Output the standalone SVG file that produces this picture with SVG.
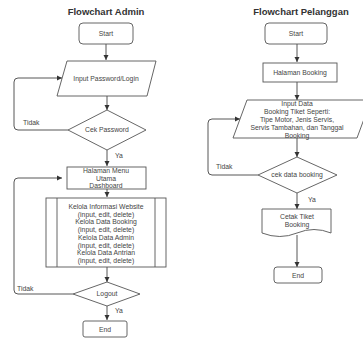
<svg xmlns="http://www.w3.org/2000/svg" width="363" height="339" viewBox="0 0 363 339">
<style>
.s{fill:#fff;stroke:#555;stroke-width:0.9}
.c{fill:none;stroke:#444;stroke-width:0.9}
.t{font-family:"Liberation Sans",Arial,sans-serif;font-size:6.8px;fill:#444;text-anchor:middle}
.l{font-family:"Liberation Sans",Arial,sans-serif;font-size:6.8px;fill:#444}
.h{font-family:"Liberation Sans",Arial,sans-serif;font-size:9.5px;font-weight:bold;fill:#333;text-anchor:middle}
</style>
<defs>
<marker id="a" markerWidth="6" markerHeight="6" refX="5" refY="3" orient="auto" markerUnits="userSpaceOnUse">
<path d="M0,0.5 L5,3 L0,5.5 Z" fill="#333"/>
</marker>
</defs>
<rect width="363" height="339" fill="#fff"/>
<text class="h" x="106" y="15">Flowchart Admin</text>
<text class="h" x="301" y="15">Flowchart Pelanggan</text>
<g id="connectors">
<path class="c" d="M106,44 V60" marker-end="url(#a)"/>
<path class="c" d="M107,96 V110" marker-end="url(#a)"/>
<path class="c" d="M68,130 H18 Q14,130 14,126 V82 Q14,78 18,78 H62" marker-end="url(#a)"/>
<path class="c" d="M107,150 V166" marker-end="url(#a)"/>
<path class="c" d="M107,189 V197" marker-end="url(#a)"/>
<path class="c" d="M107,267 V282" marker-end="url(#a)"/>
<path class="c" d="M73,294 H18 Q14,294 14,290 V182 Q14,178 18,178 H62" marker-end="url(#a)"/>
<path class="c" d="M107,306 V320" marker-end="url(#a)"/>
<path class="c" d="M297,44 V62" marker-end="url(#a)"/>
<path class="c" d="M297,82 V100" marker-end="url(#a)"/>
<path class="c" d="M297,138 V157" marker-end="url(#a)"/>
<path class="c" d="M258,175 H212 Q208,175 208,171 V123 Q208,119 212,119 H240" marker-end="url(#a)"/>
<path class="c" d="M297,193 V209" marker-end="url(#a)"/>
<path class="c" d="M297,235 V267" marker-end="url(#a)"/>
<text class="l" x="23" y="125">Tidak</text>
<text class="l" x="115" y="158">Ya</text>
<text class="l" x="17" y="291">Tidak</text>
<text class="l" x="115" y="313">Ya</text>
<text class="l" x="216" y="169">Tidak</text>
<text class="l" x="308" y="202">Ya</text>
</g>
<g id="admin-start"><rect class="s" x="79" y="23" width="54" height="21" rx="4"/><text class="t" x="106" y="36">Start</text></g>
<g id="admin-input"><polygon class="s" points="67,61 156,61 147,96 57,96"/><text class="t" x="106" y="81">Input Password/Login</text></g>
<g id="admin-cek"><polygon class="s" points="107,110 146,130 107,150 68,130"/><text class="t" x="107" y="132">Cek Password</text></g>
<g id="admin-menu"><rect class="s" x="67" y="167" width="79" height="22"/><text class="t" x="106" y="173">Halaman Menu</text><text class="t" x="106" y="180.5">Utama</text><text class="t" x="106" y="188">Dashboard</text></g>
<g id="admin-kelola"><rect class="s" x="46" y="198" width="120" height="69"/><line class="s" x1="57" y1="198" x2="57" y2="267"/><line class="s" x1="155" y1="198" x2="155" y2="267"/>
<text class="t" x="106" y="209">Kelola Informasi Website</text>
<text class="t" x="106" y="216.7">(input, edit, delete)</text>
<text class="t" x="106" y="224.4">Kelola Data Booking</text>
<text class="t" x="106" y="232.1">(input, edit, delete)</text>
<text class="t" x="106" y="239.8">Kelola Data Admin</text>
<text class="t" x="106" y="247.5">(input, edit, delete)</text>
<text class="t" x="106" y="255.2">Kelola Data Antrian</text>
<text class="t" x="106" y="262.9">(input, edit, delete)</text></g>
<g id="admin-logout"><polygon class="s" points="107,282 140,294 107,306 73,294"/><text class="t" x="107" y="296">Logout</text></g>
<g id="admin-end"><rect class="s" x="83" y="321" width="44" height="16" rx="2"/><text class="t" x="105" y="331.5">End</text></g>
<g id="pel-start"><rect class="s" x="265" y="23" width="62" height="21" rx="4"/><text class="t" x="296" y="36">Start</text></g>
<g id="pel-halaman"><rect class="s" x="263" y="63" width="74" height="19"/><text class="t" x="300" y="75">Halaman Booking</text></g>
<g id="pel-input"><polygon class="s" points="247,100 371,100 357,138 233,138"/>
<text class="t" x="297" y="106">Input Data</text>
<text class="t" x="297" y="114">Booking Tiket Seperti:</text>
<text class="t" x="297" y="122">Tipe Motor, Jenis Servis,</text>
<text class="t" x="297" y="130">Servis Tambahan, dan Tanggal</text>
<text class="t" x="297" y="138">Booking</text></g>
<g id="pel-cek"><polygon class="s" points="297,157 337,175 297,193 258,175"/><text class="t" x="297" y="177">cek data booking</text></g>
<g id="pel-cetak"><path class="s" d="M262,209 H331 V233 Q314,226 297,233 Q280,240 262,233 Z"/><text class="t" x="297" y="219">Cetak Tiket</text><text class="t" x="297" y="227">Booking</text></g>
<g id="pel-end"><rect class="s" x="274" y="267" width="48" height="16" rx="3"/><text class="t" x="298" y="277.5">End</text></g>
</svg>
